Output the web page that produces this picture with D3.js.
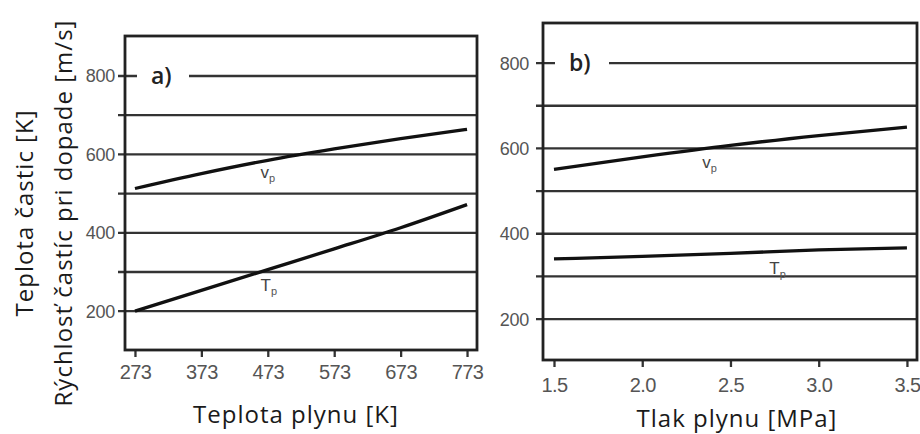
<!DOCTYPE html>
<html>
<head>
<meta charset="utf-8">
<script src="https://cdn.jsdelivr.net/npm/d3@7"></script>
<style>
  body { margin: 0; background: #fff; }
  svg { display: block; }
</style>
</head>
<body>
<script>
// rozmery
const w = 920;
const h = 434;

// data a)
const tempGas = [273, 373, 473, 573, 673, 773];
const vpA = [513, 551, 585, 614, 640, 664];
const tpA = [200, 253, 306, 359, 413, 472];

// data b)
const pressure = [1.5, 2.0, 2.5, 3.0, 3.5];
const vpB = [551, 580, 607, 630, 650];
const tpB = [341, 347, 354, 362, 367];

const yTicks = [200, 300, 400, 500, 600, 700, 800];
const yLabels = [200, 400, 600, 800];

var svg = d3.select("body").append("svg").attr("width", w).attr("height", h);

function panel(cfg) {
  const g = svg.append("g");
  const x = d3.scaleLinear().domain(cfg.xDomain).range([cfg.left, cfg.right]);
  const y = d3.scaleLinear().domain(cfg.yDomain).range([cfg.bottom, cfg.top]);

  // mriežka
  g.selectAll("line.grid")
    .data(yTicks)
    .enter()
    .append("line")
    .attr("x1", cfg.left - 7)
    .attr("x2", cfg.right)
    .attr("y1", (d) => y(d))
    .attr("y2", (d) => y(d))
    .attr("stroke", "#333")
    .attr("stroke-width", 2.3);

  // popisky osi y
  g.selectAll("text.ylab")
    .data(yLabels)
    .enter()
    .append("text")
    .text((d) => d)
    .attr("x", cfg.left - cfg.labPad)
    .attr("y", (d) => y(d))
    .attr("dy", "0.36em")
    .attr("text-anchor", "end")
    .attr("font-family", "Liberation Sans, Arial, sans-serif")
    .attr("font-size", "18px")
    .attr("letter-spacing", "-0.3px")
    .attr("fill", "#555");

  // os x
  const xAxis = d3.axisBottom(x).tickValues(cfg.xTicks).tickSize(7).tickPadding(cfg.tickPad)
    .tickFormat(cfg.fmt);
  const ax = g.append("g").attr("transform", "translate(0," + cfg.bottom + ")").call(xAxis);
  ax.select(".domain").remove();
  ax.selectAll(".tick line").attr("stroke", "#333").attr("stroke-width", 2.3);
  ax.selectAll(".tick text")
    .attr("font-family", "Liberation Sans, Arial, sans-serif")
    .attr("font-size", "20px")
    .attr("letter-spacing", "-0.6px")
    .attr("fill", "#555");

  // štítok panelu
  g.append("rect")
    .attr("x", cfg.left + cfg.gap[0])
    .attr("y", y(800) - 4)
    .attr("width", cfg.gap[1] - cfg.gap[0])
    .attr("height", 8)
    .attr("fill", "#fff");
  g.append("text")
    .text(cfg.tag)
    .attr("x", cfg.left + cfg.gap[0] + 14)
    .attr("y", y(800))
    .attr("dy", "0.35em")
    .attr("font-family", "Open Sans, sans-serif")
    .attr("font-weight", 600)
    .attr("font-size", "23px")
    .attr("fill", "#222");

  // krivky
  const line = d3.line()
    .x((d) => x(d[0]))
    .y((d) => y(d[1]))
    .curve(d3.curveMonotoneX);
  [cfg.vp, cfg.tp].forEach((s) => {
    g.append("path")
      .datum(cfg.xs.map((v, i) => [v, s[i]]))
      .attr("d", line)
      .attr("fill", "none")
      .attr("stroke", "#111")
      .attr("stroke-width", 3.3);
  });

  // rámik
  g.append("rect")
    .attr("x", cfg.left)
    .attr("y", cfg.top)
    .attr("width", cfg.right - cfg.left)
    .attr("height", cfg.bottom - cfg.top)
    .attr("fill", "none")
    .attr("stroke", "#222")
    .attr("stroke-width", 2.8);

  // označenie kriviek
  cfg.marks.forEach((m) => {
    const t = g.append("text")
      .attr("x", x(m.x))
      .attr("y", y(m.y))
      .attr("font-family", "Liberation Sans, Arial, sans-serif")
      .attr("font-size", "17px")
      .attr("fill", "#444");
    t.append("tspan").text(m.s);
    t.append("tspan").text("p").attr("font-size", "11px").attr("dy", "4").attr("fill", "#555");
  });

  // názov osi x
  g.append("text")
    .text(cfg.title)
    .attr("x", cfg.titleX)
    .attr("y", cfg.titleY)
    .attr("text-anchor", "middle")
    .attr("font-family", "Open Sans, sans-serif")
    .attr("font-size", "24px")
    .attr("letter-spacing", "1px")
    .attr("fill", "#1a1a1a");
}

panel({
  left: 125, right: 477, top: 36, bottom: 350,
  xDomain: [258, 788], yDomain: [101, 902],
  xTicks: tempGas, fmt: d3.format("d"),
  xs: tempGas, vp: vpA, tp: tpA,
  tag: "a)", gap: [12, 64], labPad: 10, tickPad: 8,
  marks: [{ s: "v", x: 462, y: 540 }, { s: "T", x: 462, y: 252 }],
  title: "Teplota plynu [K]", titleX: 296, titleY: 423
});

panel({
  left: 543, right: 917, top: 23, bottom: 360,
  xDomain: [1.4377, 3.557], yDomain: [104, 894],
  xTicks: pressure, fmt: d3.format(".1f"),
  xs: pressure, vp: vpB, tp: tpB,
  tag: "b)", gap: [12, 66], labPad: 14, tickPad: 11,
  marks: [{ s: "v", x: 2.34, y: 553 }, { s: "T", x: 2.72, y: 305 }],
  title: "Tlak plynu [MPa]", titleX: 737, titleY: 427
});

// názov osi y (dva riadky)
const yTitles = ["Teplota častic [K]", "Rýchlosť častíc pri dopade [m/s]"];
svg.selectAll("text.ytitle")
  .data(yTitles)
  .enter()
  .append("text")
  .text((d) => d)
  .attr("transform", (d, i) => "translate(" + (33 + i * 39) + ",213) rotate(-90)")
  .attr("text-anchor", "middle")
  .attr("font-family", "Open Sans, sans-serif")
  .attr("font-size", "24px")
  .attr("letter-spacing", "1px")
  .attr("fill", "#1a1a1a");
</script>
</body>
</html>
